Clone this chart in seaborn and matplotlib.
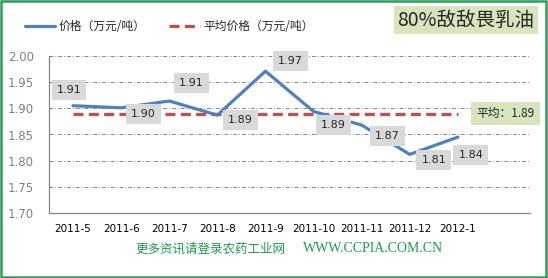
import matplotlib
matplotlib.use("Agg")
import matplotlib.pyplot as plt
import seaborn as sns
import pandas as pd
from matplotlib.patches import Rectangle

# ---- data ----
months = ["2011-5", "2011-6", "2011-7", "2011-8", "2011-9", "2011-10", "2011-11", "2011-12", "2012-1"]
prices = [1.905, 1.901, 1.914, 1.887, 1.971, 1.894, 1.868, 1.812, 1.845]
price_labels = ["1.91", "1.90", "1.91", "1.89", "1.97", "1.89", "1.87", "1.81", "1.84"]
average = 1.89
average_label = "平均：1.89"
yticks = [1.70, 1.75, 1.80, 1.85, 1.90, 1.95, 2.00]
ytick_labels = ["1.70", "1.75", "1.80", "1.85", "1.90", "1.95", "2.00"]
title = "80%敌敌畏乳油"
legend_labels = ["价格（万元/吨）", "平均价格（万元/吨）"]
footer_cn = "更多资讯请登录农药工业网"
footer_url = "WWW.CCPIA.COM.CN"

# ---- style ----
sns.set_style("white")
plt.rcParams["font.family"] = ["Noto Sans CJK SC", "DejaVu Sans"]

BLUE = "#4f81bd"
RED = "#c0504d"
GREEN_TXT = "#1a9d4a"

fig = plt.figure(figsize=(5.48, 2.78), dpi=100)
fig.patch.set_facecolor("white")
ax = fig.add_axes([49 / 548, 1 - 213 / 278, 481 / 548, 157 / 278])
ax.set_facecolor("none")

df = pd.DataFrame({
    "pos": list(range(len(months))),
    "month": months,
    "price": prices,
    "avg": [average] * len(months),
})

sns.lineplot(data=df, x="pos", y="price", ax=ax, color=BLUE, lw=2.3,
             label=legend_labels[0], zorder=4)
sns.lineplot(data=df, x="pos", y="avg", ax=ax, color=RED, lw=2.4,
             ls=(0, (3, 1.6)), label=legend_labels[1], zorder=3)

handles, labels = ax.get_legend_handles_labels()
ax.get_legend().remove()

ax.set_xlim(-0.5, len(months) + 0.5)
ax.set_ylim(1.70, 2.00)
ax.set_xticks(df["pos"])
ax.set_xticklabels(months, fontsize=7.5, color="black", family="DejaVu Sans")
ax.set_xticks([i - 0.5 for i in range(len(months) + 2)], minor=True)
ax.tick_params(axis="x", which="major", length=0, pad=8)
ax.tick_params(axis="x", which="minor", length=4, color="#868686", direction="out", width=0.8)
ax.set_yticks(yticks)
ax.set_yticklabels(ytick_labels, fontsize=8.5, color="#808080", family="DejaVu Sans")
ax.tick_params(axis="y", length=3, color="#868686", direction="out", width=0.8, pad=8)
ax.set_xlabel("")
ax.set_ylabel("")

ax.yaxis.grid(True, linestyle=(0, (4, 2, 1, 2)), color="#868686", lw=0.7)
ax.xaxis.grid(False)
ax.set_axisbelow(True)
for s in ["top", "right"]:
    ax.spines[s].set_visible(False)
for s in ["left", "bottom"]:
    ax.spines[s].set_color("#868686")
    ax.spines[s].set_linewidth(0.9)

# data labels
offsets = [(-4, 16), (22, -6), (22, 18), (23, -5), (25, 10), (20, -14), (26, -11), (24, -6), (13, -18)]
for i, (v, t) in enumerate(zip(prices, price_labels)):
    ax.annotate(t, xy=(i, v), xytext=offsets[i], textcoords="offset pixels",
                ha="center", va="center", fontsize=8, family="DejaVu Sans", zorder=6,
                bbox=dict(boxstyle="square,pad=0.45", fc="#d9d9d9", ec="none"))

ax.annotate(average_label, xy=(len(months) - 1, average), xytext=(48, 0),
            textcoords="offset pixels", ha="center", va="center", fontsize=8.5,
            family=["Noto Sans CJK SC", "DejaVu Sans"], zorder=6,
            bbox=dict(boxstyle="square,pad=0.45", fc="#d7e4bd", ec="none"))

# legend
fig.legend(handles, labels, loc="center left", bbox_to_anchor=(14 / 548, 1 - 27 / 278),
           ncol=2, frameon=False, fontsize=8.5, handlelength=2.6, columnspacing=2.0,
           handletextpad=0.3)

# title box
fig.text(466 / 548, 1 - 20 / 278, title, ha="center", va="center", fontsize=14,
         bbox=dict(boxstyle="square,pad=0.2", fc="#d7e4bd", ec="none"))

# footer
fig.text(135 / 548, 1 - 249 / 278, footer_cn, ha="left", va="center", fontsize=9, color=GREEN_TXT)
fig.text(303 / 548, 1 - 249 / 278, footer_url, ha="left", va="center", fontsize=10,
         color=GREEN_TXT, family="Liberation Serif")

# border
fig.patches.append(Rectangle((0.002, 0.003), 0.995, 0.993, transform=fig.transFigure,
                             fill=False, ec="#2f9a5c", lw=1.8))

fig.savefig("out.png", dpi=100)
